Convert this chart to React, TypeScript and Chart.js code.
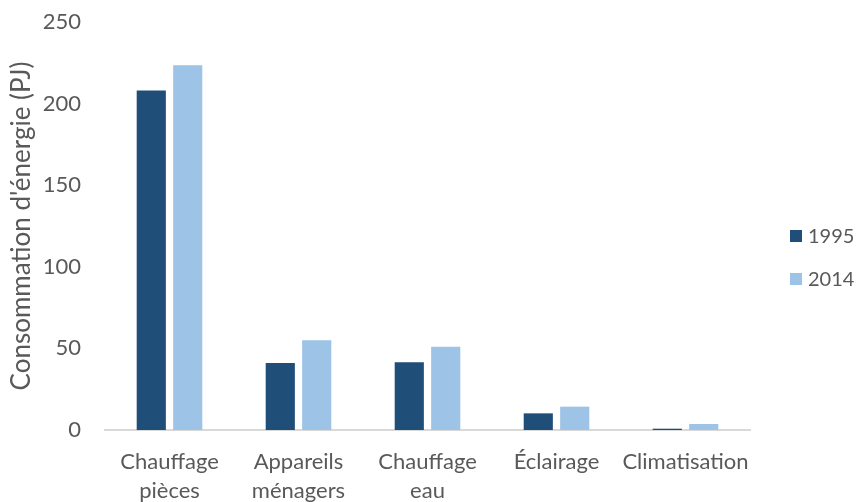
import React, { useEffect, useRef } from "react";
import { Chart, registerables } from "chart.js";

Chart.register(...registerables);

const categories: (string | string[])[] = [
  ["Chauffage", "pièces"],
  ["Appareils", "ménagers"],
  ["Chauffage", "eau"],
  "Éclairage",
  "Climatisation",
];
const values1995 = [208, 41, 41.5, 10.2, 0.8];
const values2014 = [223.5, 55, 51, 14.3, 3.7];
const seriesLabels = ["1995", "2014"];
const seriesColors = ["#1f4e79", "#9dc3e6"];
const yTicks = [0, 50, 100, 150, 200, 250];

const FONT = "Lato, 'Open Sans', sans-serif";
const TEXT = "#595959";

// Legend drawn to the right of the plot, one square marker per series
const sideLegend = {
  id: "sideLegend",
  afterDraw(chart: any) {
    const { ctx } = chart;
    ctx.save();
    ctx.font = `20px ${FONT}`;
    ctx.textBaseline = "middle";
    ctx.textAlign = "left";
    chart.data.datasets.forEach((ds: any, i: number) => {
      const y = 236 + i * 43;
      ctx.fillStyle = ds.backgroundColor;
      ctx.fillRect(790, y - 6, 12, 12);
      ctx.fillStyle = TEXT;
      ctx.fillText(ds.label, 808, y + 1);
    });
    ctx.restore();
  },
};

export default function App() {
  const ref = useRef<HTMLCanvasElement>(null);

  useEffect(() => {
    const chart = new Chart(ref.current!, {
      type: "bar",
      data: {
        labels: categories,
        datasets: [
          {
            label: seriesLabels[0],
            data: values1995,
            backgroundColor: seriesColors[0],
            barPercentage: 0.8,
            categoryPercentage: 0.565,
          },
          {
            label: seriesLabels[1],
            data: values2014,
            backgroundColor: seriesColors[1],
            barPercentage: 0.8,
            categoryPercentage: 0.565,
          },
        ],
      },
      options: {
        animation: false,
        responsive: false,
        devicePixelRatio: 1,
        layout: { padding: { top: 22, right: 109, left: 0, bottom: 0 } },
        plugins: {
          legend: { display: false },
          tooltip: { enabled: false },
        },
        scales: {
          x: {
            grid: { display: false, drawTicks: false },
            border: { display: true, color: "#d9d9d9", width: 2 },
            ticks: {
              color: TEXT,
              font: { family: FONT, size: 22, lineHeight: 1.3 },
              padding: 18,
              maxRotation: 0,
              autoSkip: false,
            },
            afterFit: (scale: any) => {
              scale.height = 72;
              scale.paddingLeft = 0;
              scale.paddingRight = 0;
            },
          },
          y: {
            min: 0,
            max: 250,
            afterBuildTicks: (scale: any) => {
              scale.ticks = yTicks.map((v) => ({ value: v }));
            },
            grid: { display: false, drawTicks: false },
            border: { display: false },
            ticks: {
              color: TEXT,
              font: { family: FONT, size: 22 },
              padding: 24,
            },
            title: {
              display: true,
              text: "Consommation d'énergie (PJ)",
              color: TEXT,
              font: { family: FONT, size: 26, weight: "normal" },
              padding: { top: 6, bottom: 0 },
            },
            afterFit: (scale: any) => {
              scale.width = 105;
              scale.paddingTop = 0;
              scale.paddingBottom = 0;
            },
          },
        },
      },
      plugins: [sideLegend],
    });
    return () => chart.destroy();
  }, []);

  return (
    <div style={{ position: "fixed", left: 0, top: 0, width: 859, height: 502, background: "#fff" }}>
      <canvas ref={ref} width={859} height={502} style={{ width: 859, height: 502 }} />
    </div>
  );
}
